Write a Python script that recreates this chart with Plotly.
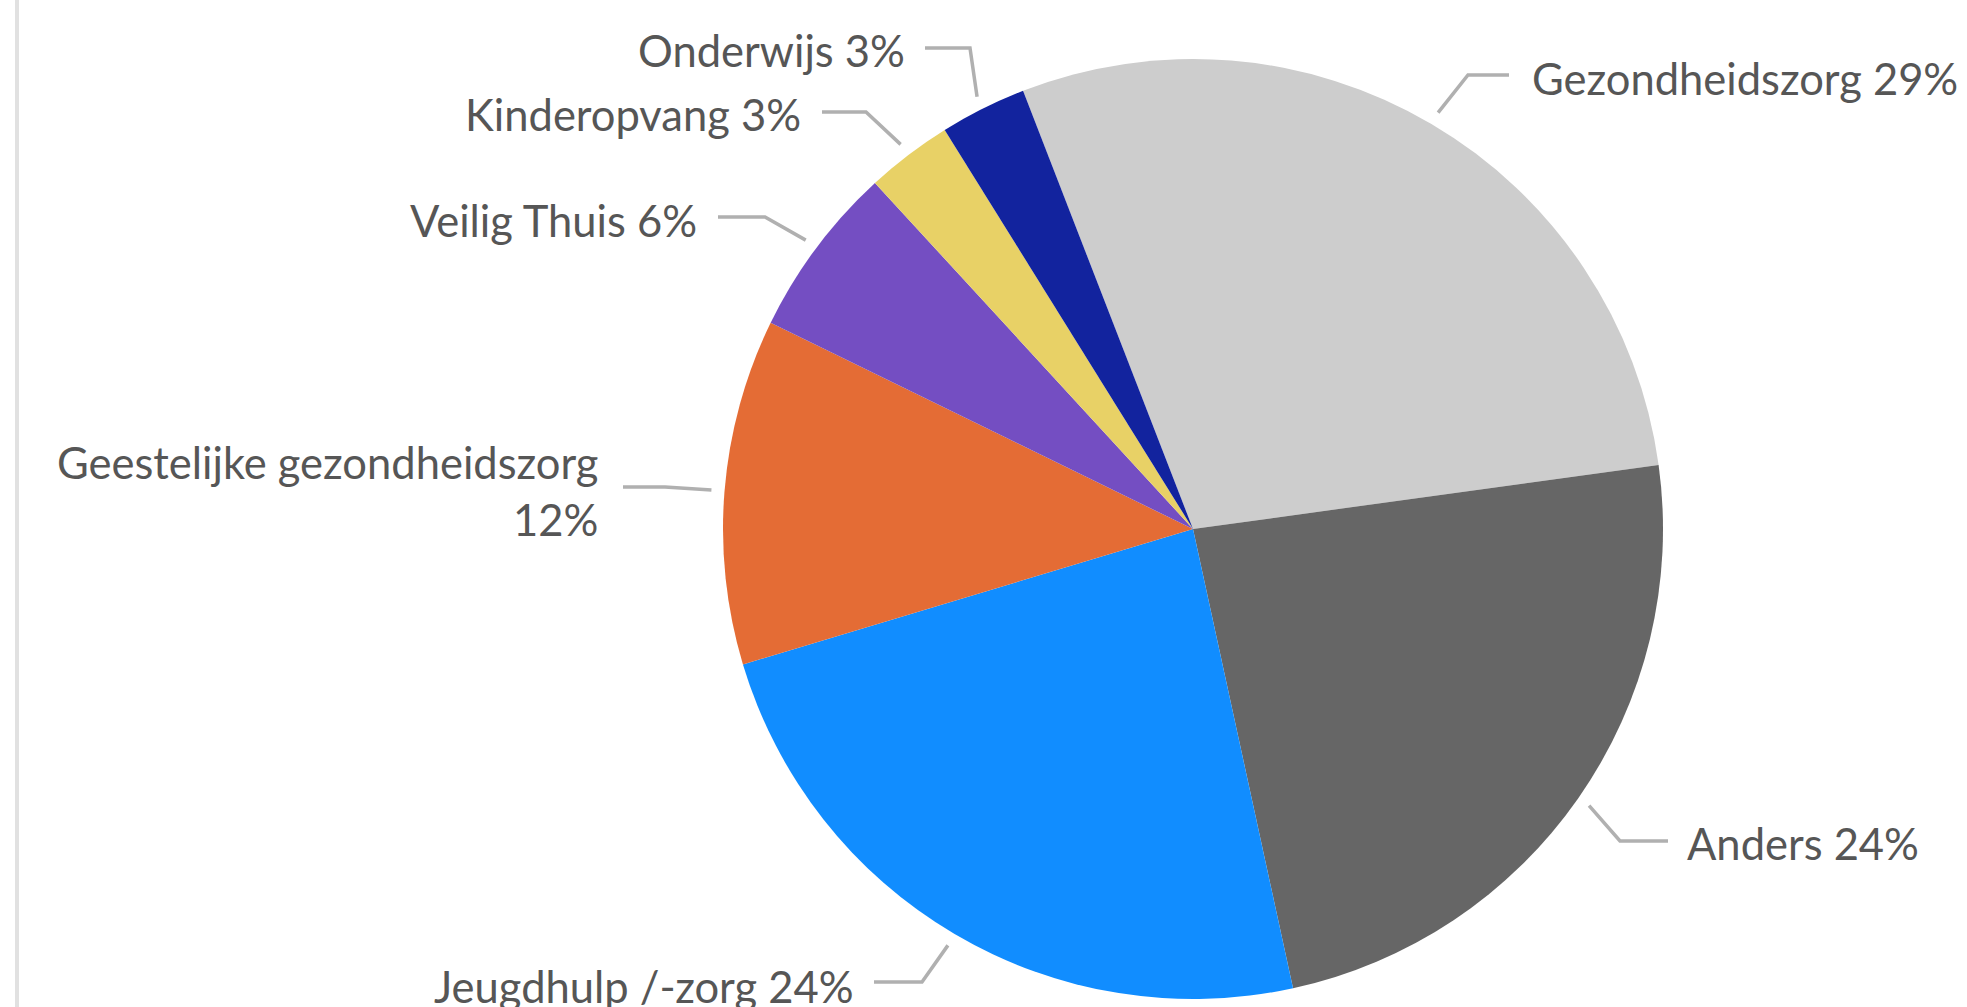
import math
import plotly.graph_objects as go

# Sector shares (percent) of the reports
categories = [
    "Gezondheidszorg",
    "Anders",
    "Jeugdhulp /-zorg",
    "Geestelijke gezondheidszorg",
    "Veilig Thuis",
    "Kinderopvang",
    "Onderwijs",
]
values = [29, 24, 24, 12, 6, 3, 3]
colors = ["#CDCDCD", "#666666", "#118DFF", "#E46C35", "#744EC2", "#E8D166", "#12239E"]

# Page and pie geometry (pixels)
W, H = 1967, 1007
CX, CY, R = 1193, 529, 470
ROTATION = -21.2  # start angle of the first slice, clockwise from 12 o'clock

# Label placement: (text x, text y, anchor, elbow x, elbow y, line end x)
label_layout = [
    (1530, 78, "left", 1468, 75, 1509),
    (1685, 843, "left", 1620, 841, 1668),
    (856, 986, "right", 922, 982, 874),
    (600, 490, "right", 665, 487, 623),
    (699, 220, "right", 765, 217, 718),
    (803, 114, "right", 866, 112, 822),
    (907, 50, "right", 970, 48, 925),
]

TEXT_COLOR = "#565656"
LEADER_COLOR = "#B0B0B0"
FONT = "Lato"
FONT_SIZE = 43.5


def px(x):
    return x / W


def py(y):
    return 1 - y / H


fig = go.Figure(
    go.Pie(
        labels=categories,
        values=values,
        sort=False,
        direction="clockwise",
        rotation=ROTATION,
        marker=dict(colors=colors, line=dict(width=0)),
        textinfo="none",
        hoverinfo="label+percent",
        showlegend=False,
        domain=dict(x=[px(CX - R), px(CX + R)], y=[py(CY + R), py(CY - R)]),
    )
)

shapes = [
    # light frame edge on the left
    dict(type="rect", xref="paper", yref="paper", x0=px(15), x1=px(19), y0=0, y1=1,
         fillcolor="#E1E1E1", line=dict(width=0), layer="below"),
]
annotations = []

total = sum(values)
start = ROTATION
for cat, val, (tx, ty, anchor, ex, ey, lx) in zip(categories, values, label_layout):
    span = val / total * 360
    mid = math.radians(start + span / 2)
    start += span
    # leader tip just outside the slice edge at its mid angle
    tipx = CX + R * 1.028 * math.sin(mid)
    tipy = CY - R * 1.028 * math.cos(mid)
    path = f"M {px(tipx)} {py(tipy)} L {px(ex)} {py(ey)} L {px(lx)} {py(ey)}"
    shapes.append(dict(type="path", xref="paper", yref="paper", path=path,
                       line=dict(color=LEADER_COLOR, width=3.5)))
    pct = round(val / total * 100)
    if cat == "Geestelijke gezondheidszorg":
        text = f"{cat}<br>{pct}%"
    else:
        text = f"{cat} {pct}%"
    annotations.append(dict(
        x=px(tx), y=py(ty), xref="paper", yref="paper", text=text, showarrow=False,
        xanchor=anchor, yanchor="middle", align=anchor,
        font=dict(family=FONT, size=FONT_SIZE, color=TEXT_COLOR),
    ))

fig.update_layout(
    width=W, height=H,
    margin=dict(l=0, r=0, t=0, b=0),
    paper_bgcolor="white",
    plot_bgcolor="white",
    shapes=shapes,
    annotations=annotations,
)

fig.write_html("out.html")
